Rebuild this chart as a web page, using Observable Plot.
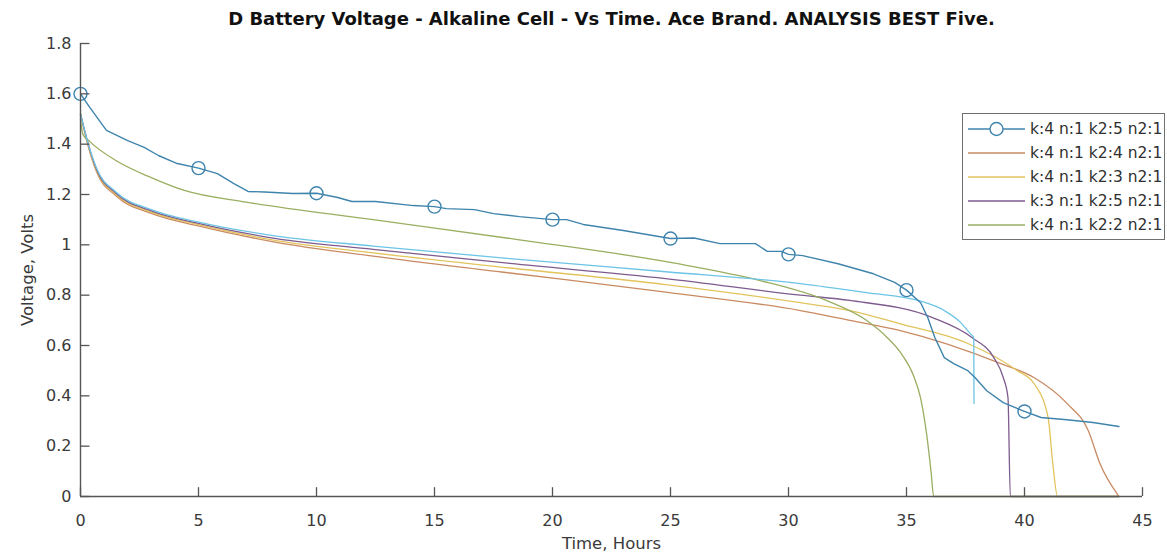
<!DOCTYPE html>
<html>
<head>
<meta charset="utf-8">
<script src="https://cdn.jsdelivr.net/npm/d3@7"></script>
<script src="https://cdn.jsdelivr.net/npm/@observablehq/plot@0.6"></script>
<style>
  body { margin: 0; background: #fff; }
  #wrap { position: relative; width: 1167px; height: 555px; overflow: hidden; background: #fff; font-family: "DejaVu Sans", sans-serif; }
  #legend { position: absolute; left: 962px; top: 113px; width: 203px; height: 127px; box-sizing: border-box;
            border: 1.5px solid #6f6f6f; background: #fff; padding-top: 3px; }
  #legend .row { display: flex; align-items: center; height: 24px; }
  #legend .row svg { margin-left: 5px; flex: none; }
  #legend .row span { margin-left: 5px; font-size: 15.5px; color: #303030; white-space: nowrap; }
</style>
</head>
<body>
<div id="wrap"></div>
<script>
// ---------- text ----------
const chartTitle = "D Battery Voltage - Alkaline Cell - Vs Time. Ace Brand. ANALYSIS BEST Five.";
const xLabel = "Time, Hours";
const yLabel = "Voltage, Volts";

// ---------- ticks ----------
const xTicks = [0, 5, 10, 15, 20, 25, 30, 35, 40, 45];
const yTicks = [0, 0.2, 0.4, 0.6, 0.8, 1, 1.2, 1.4, 1.6, 1.8];

// ---------- series names & colours ----------
const seriesNames = ["k:4 n:1 k2:5 n2:1", "k:4 n:1 k2:4 n2:1", "k:4 n:1 k2:3 n2:1", "k:3 n:1 k2:5 n2:1", "k:4 n:1 k2:2 n2:1", "extra fit"];
const seriesColors = ["#3f84ad", "#c98a62", "#e2c35c", "#7e5b8e", "#9aae60", "#6cc4e6"];
const inLegend = [true, true, true, true, true, false];

// ---------- series 1: measured data (with markers) ----------
const measT = [0, 0.4, 1.1, 2.0, 2.7, 3.3, 4.1, 5.0, 5.8, 6.5, 7.1, 7.8, 9.0, 10.0, 10.9, 11.5, 12.5, 14.1, 15.0, 15.5, 16.7, 17.5, 18.6, 20.0, 20.6, 21.3, 23.0, 25.0, 26.0, 27.1, 28.6, 29.1, 29.7, 30.0, 30.6, 32.1, 33.6, 34.5, 35.0, 35.6, 35.9, 36.2, 36.6, 37.0, 37.6, 37.9, 38.4, 39.1, 40.0, 40.7, 41.8, 42.9, 44.0];
const measV = [1.60, 1.545, 1.455, 1.414, 1.387, 1.355, 1.323, 1.305, 1.283, 1.243, 1.212, 1.210, 1.204, 1.205, 1.188, 1.172, 1.172, 1.156, 1.152, 1.144, 1.140, 1.124, 1.112, 1.100, 1.100, 1.081, 1.057, 1.025, 1.027, 1.005, 1.005, 0.974, 0.974, 0.962, 0.957, 0.925, 0.885, 0.851, 0.820, 0.770, 0.711, 0.632, 0.552, 0.528, 0.500, 0.473, 0.420, 0.373, 0.338, 0.314, 0.305, 0.294, 0.278];
const markerEvery = 5;

// ---------- series 2: k2:4 (orange) ----------
const k24T = [0, 0.3, 0.7, 1.5, 3.0, 5.0, 8.3, 12.4, 18.2, 24.8, 30.5, 32.6, 34.7, 39.0, 40.4, 41.8, 42.7, 43.2, 44.0];
const k24V = [1.52, 1.40, 1.285, 1.195, 1.125, 1.075, 1.010, 0.955, 0.888, 0.812, 0.739, 0.700, 0.660, 0.528, 0.473, 0.370, 0.262, 0.130, 0];

// ---------- series 3: k2:3 (yellow) ----------
const k23T = [0, 0.3, 0.7, 1.5, 3.0, 5.0, 8.3, 12.4, 18.2, 24.8, 30.5, 32.6, 34.7, 37.6, 39.7, 40.4, 41.0, 41.2, 41.4, 44.0];
const k23V = [1.52, 1.405, 1.29, 1.20, 1.13, 1.08, 1.017, 0.968, 0.908, 0.842, 0.770, 0.739, 0.687, 0.608, 0.500, 0.449, 0.314, 0.130, 0, 0];

// ---------- series 4: k:3 k2:5 (purple) ----------
const k35T = [0, 0.3, 0.7, 1.5, 3.0, 5.0, 8.3, 12.4, 18.2, 24.8, 30.5, 32.6, 36.1, 37.8, 38.7, 39.1, 39.3, 39.4, 44.0];
const k35V = [1.52, 1.41, 1.295, 1.205, 1.135, 1.085, 1.025, 0.982, 0.926, 0.866, 0.800, 0.779, 0.711, 0.630, 0.552, 0.473, 0.393, 0, 0];

// ---------- series 5: k2:2 (green) ----------
const k22T = [0, 0.1, 0.4, 1.5, 3.0, 4.4, 7.0, 12.4, 18.6, 25.0, 28.8, 31.6, 33.3, 34.2, 34.8, 35.3, 35.6, 35.85, 36.05, 36.15, 44.0];
const k22V = [1.50, 1.44, 1.41, 1.335, 1.267, 1.216, 1.170, 1.100, 1.020, 0.930, 0.858, 0.779, 0.700, 0.630, 0.565, 0.480, 0.390, 0.250, 0.090, 0, 0];

// ---------- series 6: extra fit (cyan, not in legend) ----------
const extraT = [0, 0.3, 0.7, 1.5, 3.0, 5.0, 8.3, 12.4, 18.2, 24.8, 30.5, 33.3, 35.5, 36.6, 37.3, 37.7, 37.85, 37.86];
const extraV = [1.52, 1.41, 1.30, 1.21, 1.14, 1.09, 1.035, 0.995, 0.945, 0.893, 0.846, 0.810, 0.779, 0.739, 0.691, 0.647, 0.632, 0.370];

// ---------- build table ----------
const seriesT = [measT, k24T, k23T, k35T, k22T, extraT];
const seriesV = [measV, k24V, k23V, k35V, k22V, extraV];
const rows = [];
seriesT.forEach((ts, i) => ts.forEach((t, j) => rows.push({series: seriesNames[i], idx: i, t, v: seriesV[i][j]})));
const measRows = rows.filter(d => d.idx === 0);
const modelRows = rows.filter(d => d.idx !== 0);
const markerRows = measRows.filter(d => Math.abs(d.t / markerEvery - Math.round(d.t / markerEvery)) < 1e-9);

const axisColor = "#555555";
const textColor = "#3a3a3a";

const chart = Plot.plot({
  width: 1167,
  height: 555,
  marginLeft: 80,
  marginRight: 25,
  marginTop: 43,
  marginBottom: 59,
  style: {fontFamily: "'DejaVu Sans', sans-serif", background: "#fff", overflow: "visible"},
  x: {domain: [0, 45], label: null},
  y: {domain: [0, 1.8], label: null},
  color: {domain: seriesNames, range: seriesColors},
  marks: [
    // model curves (drawn first, under data)
    ...[1, 2, 3, 4, 5].map(i => Plot.line(modelRows.filter(d => d.idx === i), {
      x: "t", y: "v", stroke: seriesColors[i], strokeWidth: 1.3, curve: "monotone-x"
    })),
    // measured data
    Plot.line(measRows, {x: "t", y: "v", stroke: seriesColors[0], strokeWidth: 1.4}),
    Plot.dot(markerRows, {x: "t", y: "v", r: 6.5, stroke: seriesColors[0], strokeWidth: 1.4, fill: "none"}),
    // axes lines
    Plot.ruleX([0], {stroke: axisColor, strokeWidth: 1.4}),
    Plot.ruleY([0], {stroke: axisColor, strokeWidth: 1.4}),
    // inward ticks
    Plot.ruleX(xTicks, {x: d => d, y1: 0, y2: 0.035, stroke: axisColor, strokeWidth: 1.3}),
    Plot.ruleY(yTicks, {y: d => d, x1: 0, x2: 0.4, stroke: axisColor, strokeWidth: 1.3}),
    // tick labels
    Plot.axisX({ticks: xTicks, tickSize: 0, tickPadding: 18, fontSize: 16, fill: textColor, label: null}),
    Plot.axisY({ticks: yTicks, tickSize: 0, tickPadding: 9, fontSize: 16, fill: textColor, label: null, tickFormat: d => d3.format("~g")(d)}),
    // axis titles
    Plot.text([xLabel], {frameAnchor: "bottom", dy: 47, lineAnchor: "middle", textAnchor: "middle", fontSize: 16.5, fill: textColor}),
    Plot.text([yLabel], {frameAnchor: "middle", dx: -584, rotate: -90, textAnchor: "middle", lineAnchor: "middle", fontSize: 16.5, fill: textColor}),
    // chart title
    Plot.text([chartTitle], {frameAnchor: "top", dy: -24, lineAnchor: "middle", textAnchor: "middle", fontSize: 18, fontWeight: "bold", fill: "#111"})
  ]
});

const wrap = document.getElementById("wrap");
wrap.appendChild(chart);

// ---------- legend ----------
const legend = document.createElement("div");
legend.id = "legend";
seriesNames.forEach((name, i) => {
  if (!inLegend[i]) return;
  const row = document.createElement("div");
  row.className = "row";
  const ns = "http://www.w3.org/2000/svg";
  const s = document.createElementNS(ns, "svg");
  s.setAttribute("width", 57); s.setAttribute("height", 20);
  const ln = document.createElementNS(ns, "line");
  ln.setAttribute("x1", 0); ln.setAttribute("x2", 57); ln.setAttribute("y1", 10); ln.setAttribute("y2", 10);
  ln.setAttribute("stroke", seriesColors[i]); ln.setAttribute("stroke-width", 1.4);
  s.appendChild(ln);
  if (i === 0) {
    const c = document.createElementNS(ns, "circle");
    c.setAttribute("cx", 28.5); c.setAttribute("cy", 10); c.setAttribute("r", 6.5);
    c.setAttribute("fill", "#fff"); c.setAttribute("stroke", seriesColors[i]); c.setAttribute("stroke-width", 1.4);
    s.appendChild(c);
  }
  row.appendChild(s);
  const t = document.createElement("span");
  t.textContent = name;
  row.appendChild(t);
  legend.appendChild(row);
});
wrap.appendChild(legend);
</script>
</body>
</html>
